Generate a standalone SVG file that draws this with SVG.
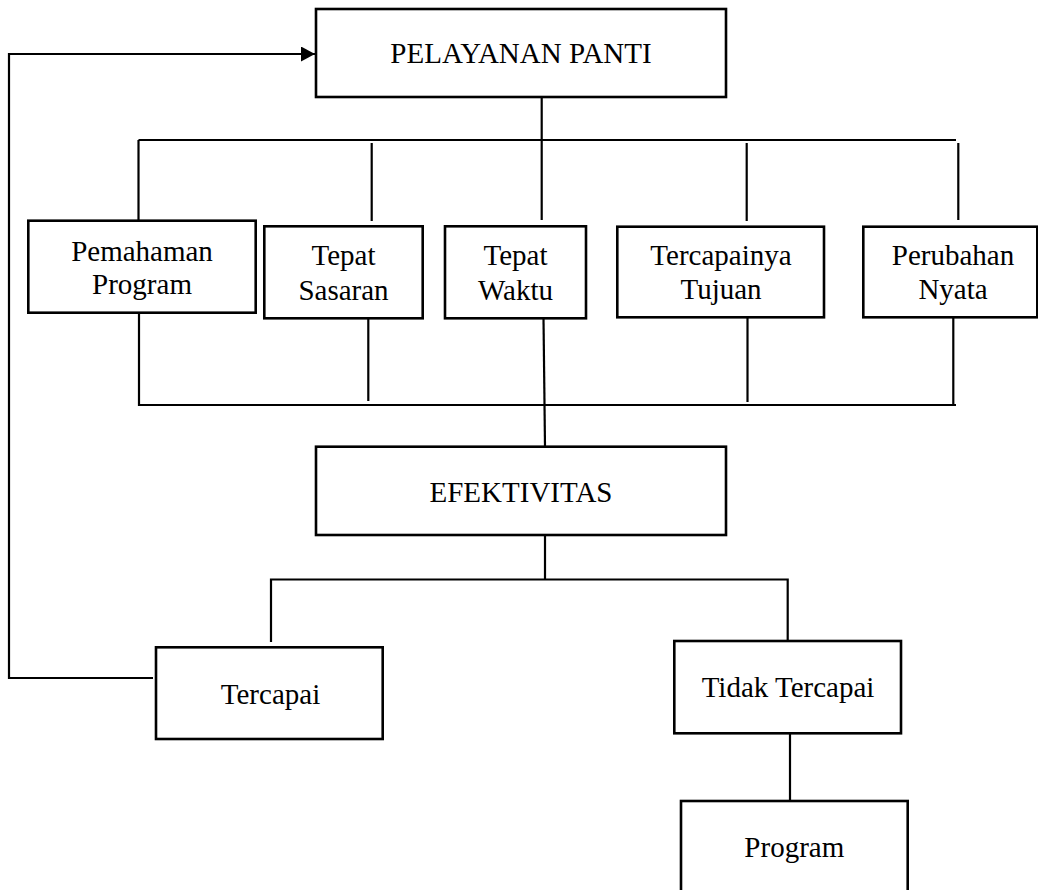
<svg xmlns="http://www.w3.org/2000/svg" width="1038" height="890" viewBox="0 0 1038 890">
<style>
.box{fill:#fff;stroke:#000;stroke-width:2.6}
.ln{fill:none;stroke:#000;stroke-width:2.2}
text{font-family:"Liberation Serif","Times New Roman",serif;font-size:29px;fill:#000;text-anchor:middle}
</style>
<defs>
<marker id="arr" markerWidth="15" markerHeight="15" refX="14" refY="7.5" orient="auto" markerUnits="userSpaceOnUse">
<path d="M0,0 L14,7.5 L0,15 Z" fill="#000"/>
</marker>
</defs>
<rect width="1038" height="890" fill="#fff"/>
<g id="connectors">
<path class="ln" d="M153,678 H9 V54 H315" marker-end="url(#arr)"/>
<path class="ln" d="M541.7,97 V220"/>
<path class="ln" d="M138.5,140 H956"/>
<path class="ln" d="M138.5,140 V221"/>
<path class="ln" d="M371.7,143 V221"/>
<path class="ln" d="M746.7,143 V221"/>
<path class="ln" d="M958.3,143 V220"/>
<path class="ln" d="M139,313 V405 H956"/>
<path class="ln" d="M368.3,318 V401"/>
<path class="ln" d="M747.5,317 V402"/>
<path class="ln" d="M953.3,317 V405"/>
<path class="ln" d="M543.5,318 L545,447"/>
<path class="ln" d="M545,535 V580"/>
<path class="ln" d="M271,642 V579.5 H787.7 V641"/>
<path class="ln" d="M790,734 V801"/>
</g>
<g id="pelayanan-panti">
<rect class="box" x="316" y="9" width="410" height="88"/>
<text x="521" y="63">PELAYANAN PANTI</text>
</g>
<g id="pemahaman-program">
<rect class="box" x="28.3" y="220.7" width="227.4" height="92"/>
<text x="142" y="261">Pemahaman</text>
<text x="142" y="294">Program</text>
</g>
<g id="tepat-sasaran">
<rect class="box" x="264.3" y="226.3" width="158.4" height="92"/>
<text x="343.5" y="265">Tepat</text>
<text x="343.5" y="300">Sasaran</text>
</g>
<g id="tepat-waktu">
<rect class="box" x="445" y="226.3" width="141" height="92"/>
<text x="515.5" y="265">Tepat</text>
<text x="515.5" y="300">Waktu</text>
</g>
<g id="tercapainya-tujuan">
<rect class="box" x="617.3" y="226.7" width="206.7" height="90.6"/>
<text x="721" y="265">Tercapainya</text>
<text x="721" y="299">Tujuan</text>
</g>
<g id="perubahan-nyata">
<rect class="box" x="863.3" y="226.7" width="174" height="90.6"/>
<text x="953" y="265">Perubahan</text>
<text x="953" y="299">Nyata</text>
</g>
<g id="efektivitas">
<rect class="box" x="316" y="446.7" width="410" height="88.3"/>
<text x="521" y="502">EFEKTIVITAS</text>
</g>
<g id="tercapai">
<rect class="box" x="156" y="647.3" width="226.7" height="91.7"/>
<text x="270.5" y="704">Tercapai</text>
</g>
<g id="tidak-tercapai">
<rect class="box" x="674.3" y="641" width="226.7" height="92.3"/>
<text x="788" y="697">Tidak Tercapai</text>
</g>
<g id="program">
<rect class="box" x="681" y="801" width="226.7" height="100"/>
<text x="794.3" y="857">Program</text>
</g>
</svg>
